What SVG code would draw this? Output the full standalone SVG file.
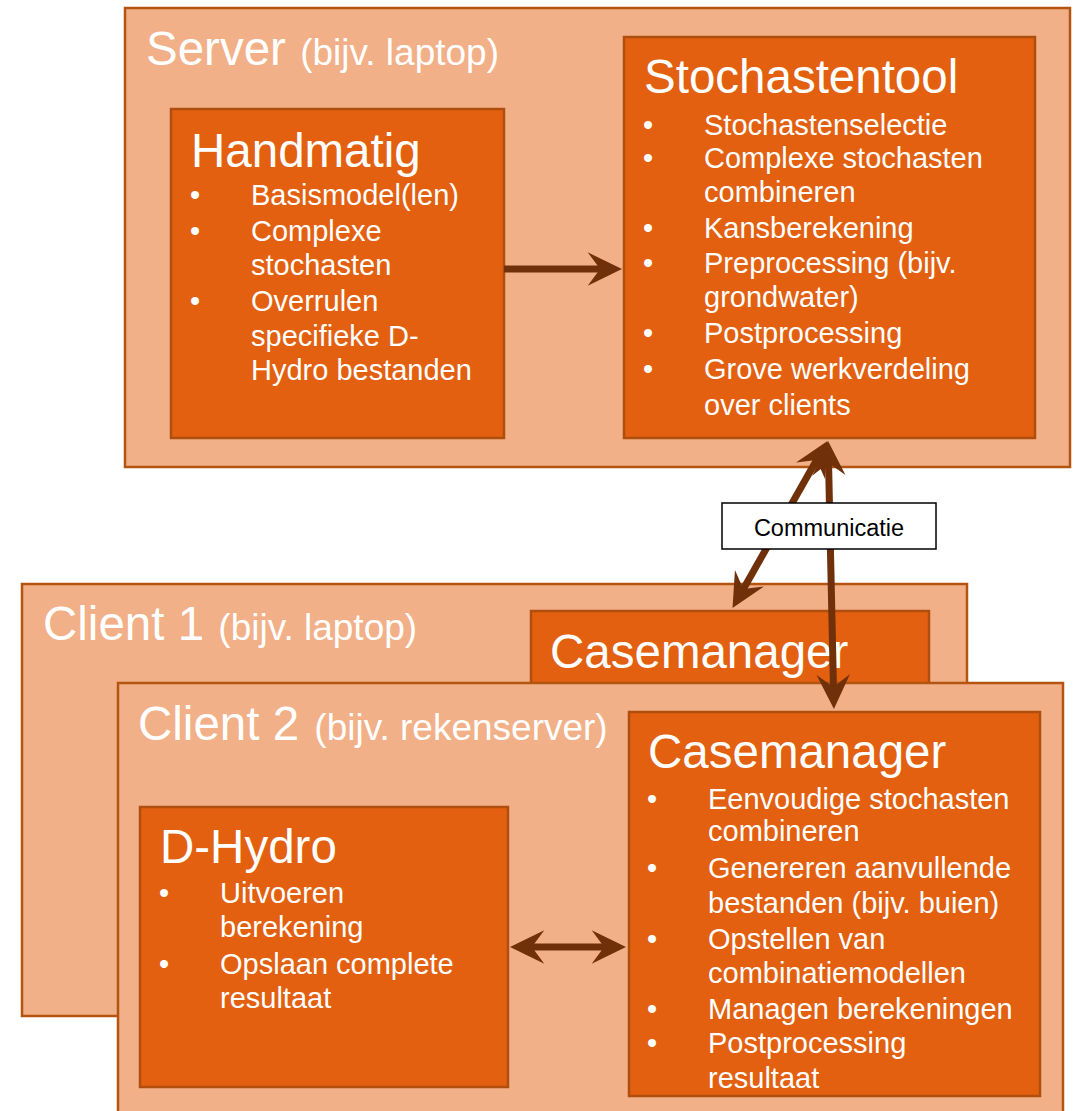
<svg xmlns="http://www.w3.org/2000/svg" width="1076" height="1111" viewBox="0 0 1076 1111">
<style>
text{font-family:"Liberation Sans",Arial,sans-serif;fill:#ffffff}
.outer{fill:#F1B088;stroke:#B5540F;stroke-width:2.5}
.inner{fill:#E26010;stroke:#B04E0E;stroke-width:2.5}
.ttl{font-size:47.5px}
.sub{font-size:37px}
.b{font-size:29px}
.conn{stroke:#70300A;stroke-width:7;fill:none}
</style>
<defs>
<marker id="ah" markerUnits="userSpaceOnUse" markerWidth="40" markerHeight="40" viewBox="-20 -20 42 40" refX="0" refY="0" orient="auto-start-reverse" overflow="visible">
<path d="M21,0 L-15,-17.5 L-2,0 L-15,17.5 Z" fill="#70300A"/>
</marker>
</defs>
<rect width="1076" height="1111" fill="#ffffff"/>
<g id="server">
<rect class="outer" x="125" y="8" width="945" height="459"/>
<text x="146" y="65"><tspan class="ttl">Server</tspan><tspan class="sub" dx="4"> (bijv. laptop)</tspan></text>
</g>
<g id="handmatig">
<rect class="inner" x="171" y="109" width="333" height="329"/>
<text class="ttl" x="191" y="167">Handmatig</text>
<g class="b">
<text x="190" y="205">•</text><text x="251" y="205">Basismodel(len)</text>
<text x="190" y="241">•</text><text x="251" y="241">Complexe</text>
<text x="251" y="275">stochasten</text>
<text x="190" y="311">•</text><text x="251" y="311">Overrulen</text>
<text x="251" y="346">specifieke D-</text>
<text x="251" y="380">Hydro bestanden</text>
</g>
</g>
<g id="stochastentool">
<rect class="inner" x="624" y="37" width="411" height="401"/>
<text class="ttl" x="644" y="93">Stochastentool</text>
<g class="b">
<text x="643" y="135">•</text><text x="704" y="135">Stochastenselectie</text>
<text x="643" y="168">•</text><text x="704" y="168">Complexe stochasten</text>
<text x="704" y="202">combineren</text>
<text x="643" y="238">•</text><text x="704" y="238">Kansberekening</text>
<text x="643" y="273">•</text><text x="704" y="273">Preprocessing (bijv.</text>
<text x="704" y="307">grondwater)</text>
<text x="643" y="343">•</text><text x="704" y="343">Postprocessing</text>
<text x="643" y="379">•</text><text x="704" y="379">Grove werkverdeling</text>
<text x="704" y="415">over clients</text>
</g>
</g>
<g id="client1">
<rect class="outer" x="22" y="584" width="945" height="432"/>
<text x="43" y="640"><tspan class="ttl">Client 1</tspan><tspan class="sub" dx="4"> (bijv. laptop)</tspan></text>
</g>
<g id="casemanager1">
<rect class="inner" x="531" y="611" width="398" height="100"/>
<text class="ttl" x="550" y="668">Casemanager</text>
</g>
<g id="client2">
<rect class="outer" x="118" y="683" width="945" height="440"/>
<text x="138" y="740"><tspan class="ttl">Client 2</tspan><tspan class="sub" dx="5"> (bijv. rekenserver)</tspan></text>
</g>
<g id="dhydro">
<rect class="inner" x="140" y="807" width="368" height="280"/>
<text class="ttl" x="160" y="863">D-Hydro</text>
<g class="b">
<text x="159" y="903">•</text><text x="220" y="903">Uitvoeren</text>
<text x="220" y="937">berekening</text>
<text x="159" y="974">•</text><text x="220" y="974">Opslaan complete</text>
<text x="220" y="1008">resultaat</text>
</g>
</g>
<g id="casemanager2">
<rect class="inner" x="629" y="712" width="411" height="384"/>
<text class="ttl" x="648" y="768">Casemanager</text>
<g class="b">
<text x="647" y="809">•</text><text x="708" y="809">Eenvoudige stochasten</text>
<text x="708" y="841">combineren</text>
<text x="647" y="878">•</text><text x="708" y="878">Genereren aanvullende</text>
<text x="708" y="913">bestanden (bijv. buien)</text>
<text x="647" y="949">•</text><text x="708" y="949">Opstellen van</text>
<text x="708" y="983">combinatiemodellen</text>
<text x="647" y="1019">•</text><text x="708" y="1019">Managen berekeningen</text>
<text x="647" y="1053">•</text><text x="708" y="1053">Postprocessing</text>
<text x="708" y="1088">resultaat</text>
</g>
</g>
<g id="connectors">
<line class="conn" x1="504" y1="269" x2="602" y2="269" marker-end="url(#ah)"/>
<line class="conn" x1="530" y1="947" x2="606" y2="947" marker-start="url(#ah)" marker-end="url(#ah)"/>
<line class="conn" x1="817.6" y1="458.3" x2="742.4" y2="590.7" marker-start="url(#ah)" marker-end="url(#ah)"/>
<line class="conn" x1="828.5" y1="461" x2="833.5" y2="689" marker-start="url(#ah)" marker-end="url(#ah)"/>
</g>
<g id="communicatie">
<rect x="722" y="503" width="214" height="46" fill="#ffffff" stroke="#000000" stroke-width="1.5"/>
<text x="829" y="536" text-anchor="middle" font-size="23.5" style="fill:#000000">Communicatie</text>
</g>
</svg>
